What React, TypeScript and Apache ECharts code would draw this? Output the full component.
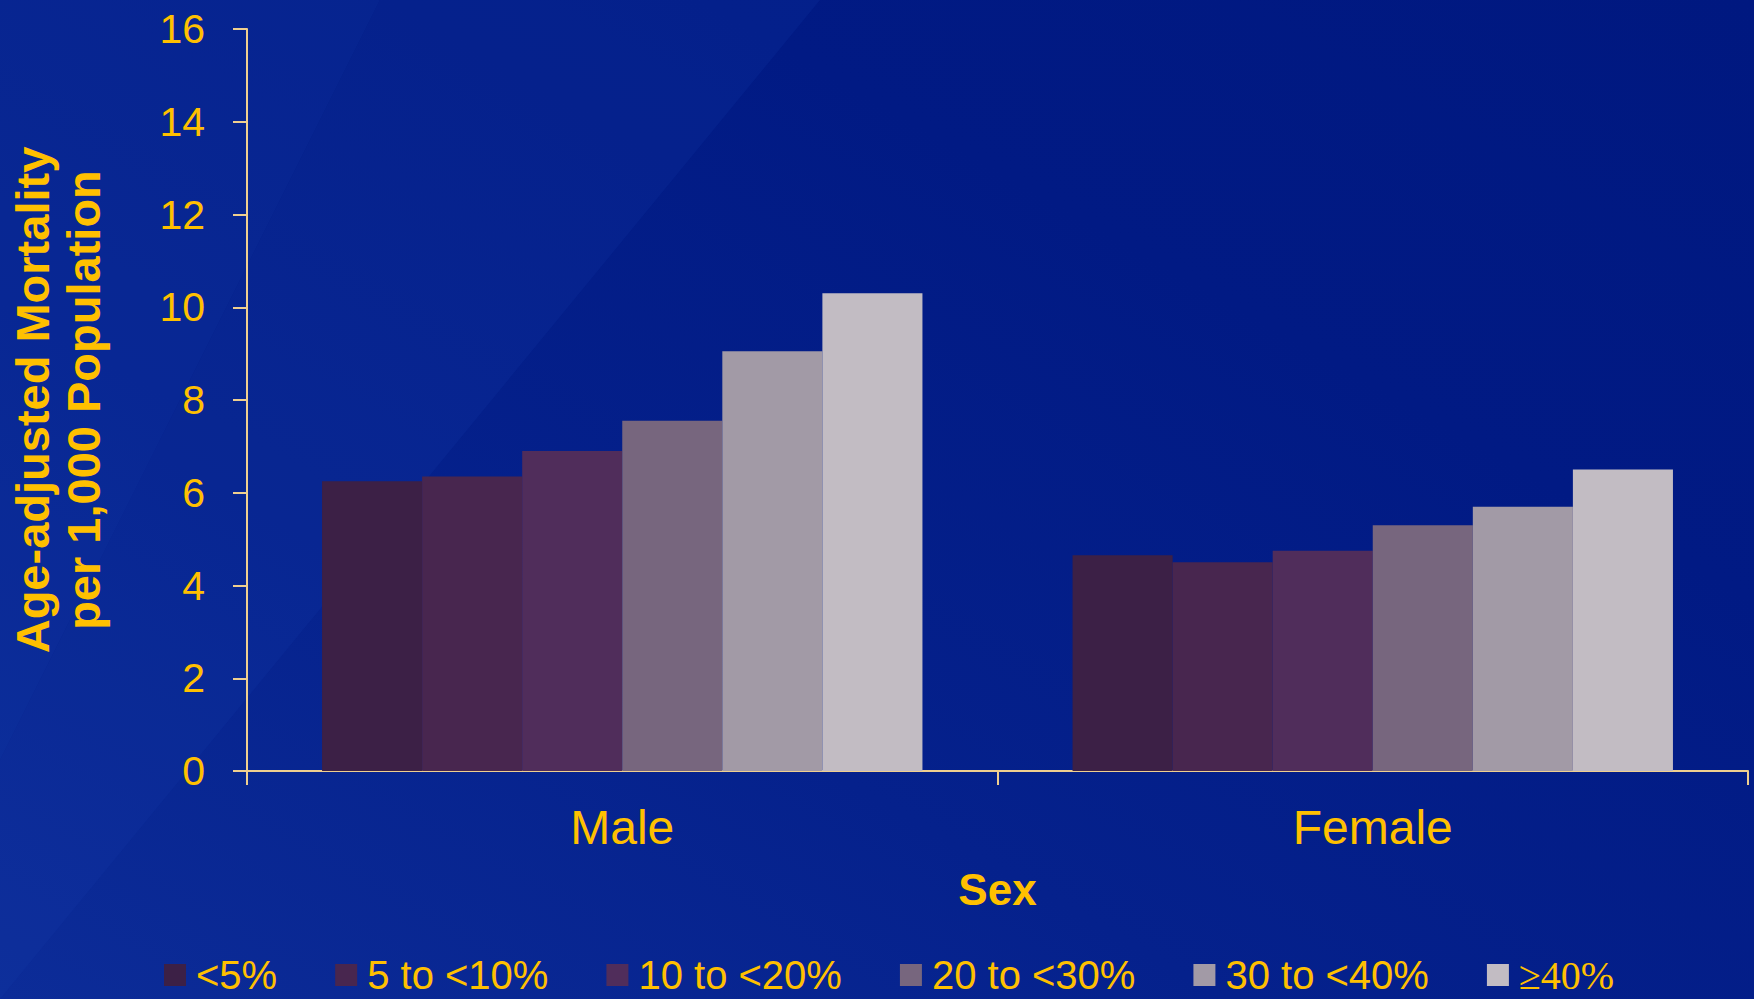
import React, { useEffect, useRef } from "react";
import * as echarts from "echarts";

const categories = ["Male", "Female"];
const seriesNames = ["<5%", "5 to <10%", "10 to <20%", "20 to <30%", "30 to <40%", "≥40%"];
const maleValues = [6.25, 6.35, 6.9, 7.55, 9.05, 10.3];
const femaleValues = [4.65, 4.5, 4.75, 5.3, 5.7, 6.5];
const barColors = ["#3C2046", "#48264F", "#502D5B", "#77667E", "#A29AA6", "#C2BCC3"];
const yTicks = [0, 2, 4, 6, 8, 10, 12, 14, 16];

const gold = "#FFC000";
const axisColor = "#EFCF8F";

export default function App() {
  const ref = useRef<HTMLDivElement>(null);
  useEffect(() => {
    if (!ref.current) return;
    const chart = echarts.init(ref.current, null, { renderer: "svg" });
    const series = seriesNames.map((name, i) => ({
      name,
      type: "bar",
      data: [maleValues[i], femaleValues[i]],
      itemStyle: { color: barColors[i] },
      barGap: "0%",
      barCategoryGap: "20%",
    }));
    chart.setOption({
      animation: false,
      backgroundColor: {
        type: "linear",
        x: 0, y: 1, x2: 1, y2: 0,
        colorStops: [
          { offset: 0, color: "#0C2C98" },
          { offset: 0.35, color: "#05218C" },
          { offset: 0.7, color: "#011A84" },
          { offset: 1, color: "#001880" },
        ],
      },
      graphic: [
        {
          type: "polygon",
          silent: true,
          z: -10,
          shape: { points: [[0, 0], [380, 0], [0, 760]] },
          style: { fill: "rgba(20,60,170,0.25)" },
        },
        {
          type: "polygon",
          silent: true,
          z: -10,
          shape: { points: [[380, 0], [820, 0], [0, 999], [0, 760]] },
          style: { fill: "rgba(20,60,170,0.18)" },
        },
      ],
      textStyle: { fontFamily: "Liberation Sans, Arial, sans-serif" },
      grid: { left: 247, right: 6, top: 29, bottom: 228, containLabel: false, outerBoundsMode: "none" },
      legend: {
        data: seriesNames,
        left: 164,
        top: 955,
        padding: 0,
        itemWidth: 22,
        itemHeight: 22,
        itemGap: 58,
        icon: "rect",
        textStyle: {
          color: gold,
          fontSize: 40,
          lineHeight: 40,
          padding: [0, 0, 0, 5],
          rich: {
            g: { fontFamily: "Liberation Serif", fontSize: 40, color: gold, lineHeight: 40 },
            s: { fontFamily: "Liberation Serif", fontSize: 40, color: gold, lineHeight: 40 },
          },
        },
        formatter: (n: string) => (n === "≥40%" ? "{g|≥}{s|40%}" : n),
      },
      xAxis: {
        type: "category",
        data: categories,
        name: "Sex",
        nameLocation: "middle",
        nameGap: 96,
        nameTextStyle: { color: gold, fontSize: 44, fontWeight: "bold" },
        axisLine: { lineStyle: { color: axisColor, width: 2 } },
        axisTick: { show: true, length: 14, lineStyle: { color: axisColor, width: 2 } },
        axisLabel: { color: gold, fontSize: 48, margin: 32 },
      },
      yAxis: {
        type: "value",
        min: 0,
        max: 16,
        interval: 2,
        name: "Age-adjusted Mortality\nper 1,000 Population",
        nameLocation: "middle",
        nameGap: 138,
        nameRotate: 90,
        nameTextStyle: { color: gold, fontSize: 47, fontWeight: "bold", lineHeight: 51 },
        axisLine: { show: true, lineStyle: { color: axisColor, width: 2 } },
        axisTick: { show: true, length: 14, lineStyle: { color: axisColor, width: 2 } },
        splitLine: { show: false },
        axisLabel: {
          color: gold,
          fontSize: 41,
          margin: 42,
          formatter: (v: number) => (yTicks.includes(v) ? String(v) : ""),
        },
      },
      series,
    });
    return () => chart.dispose();
  }, []);
  return <div ref={ref} style={{ width: 1754, height: 999, position: "absolute", left: 0, top: 0 }} />;
}
